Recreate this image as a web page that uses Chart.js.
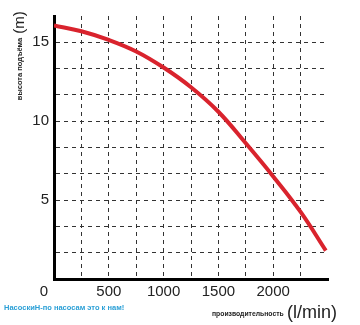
<!DOCTYPE html>
<html>
<head>
<meta charset="utf-8">
<script src="https://cdn.jsdelivr.net/npm/chart.js@4"></script>
<style>
  html, body { margin: 0; padding: 0; background: #fff; }
  #wrap { width: 360px; height: 325px; }
</style>
</head>
<body>
<div id="wrap"><canvas id="pumpChart" width="360" height="325"></canvas></div>
<script>
// flow (l/min) and head (m)
const flow = [0, 250, 500, 750, 1000, 1250, 1500, 1750, 2000, 2250, 2480]
const head = [16.07, 15.7, 15.15, 14.42, 13.4, 12.15, 10.6, 8.6, 6.5, 4.25, 1.8]

const xLabels = [500, 1000, 1500, 2000]
const yLabels = [5, 10, 15]
const xMax = 2500
const yMax = 50 / 3
const xStep = 250
const yStep = 5 / 3

const font = 'Liberation Sans, Arial, sans-serif'

const points = flow.map((f, i) => ({ x: f, y: head[i] }))

// axis titles, corner zero and footer text
const extraText = {
    id: 'extraText',
    afterDraw(chart) {
        const ctx = chart.ctx
        const area = chart.chartArea
        ctx.save()
        ctx.fillStyle = '#222'
        ctx.textBaseline = 'middle'

        ctx.font = '15px ' + font
        ctx.textAlign = 'right'
        ctx.fillText('0', area.left - 6, area.bottom + 13)

        ctx.save()
        ctx.translate(20, 0)
        ctx.rotate(-Math.PI / 2)
        ctx.textAlign = 'center'
        ctx.font = 'bold 7.5px ' + font
        ctx.fillText('высота подъёма', -69, 0)
        ctx.font = '15px ' + font
        ctx.fillText('(m)', -22.5, 0)
        ctx.restore()

        ctx.textAlign = 'left'
        ctx.font = 'bold 6.8px ' + font
        ctx.fillText('производительность', 212, 314)
        ctx.font = '18px ' + font
        ctx.fillText('(l/min)', 287, 313)

        ctx.fillStyle = '#2a9fd6'
        ctx.font = 'bold 7.5px ' + font
        ctx.fillText('НасоскиН-по насосам это к нам!', 4, 308)
        ctx.restore()
    }
}

function gridTicks(max, step) {
    const t = []
    for (let v = 0; v <= max + 1e-9; v += step) t.push({ value: v })
    return t
}

new Chart(document.getElementById('pumpChart'), {
    type: 'scatter',
    data: {
        datasets: [{
            data: points,
            showLine: true,
            borderColor: '#d9232d',
            borderWidth: 4,
            pointRadius: 0,
            tension: 0.4,
            fill: false
        }]
    },
    options: {
        responsive: false,
        animation: false,
        devicePixelRatio: 1,
        layout: { padding: { left: 0, top: 16, right: 32, bottom: 0 } },
        plugins: {
            legend: { display: false },
            tooltip: { enabled: false }
        },
        scales: {
            x: {
                type: 'linear',
                min: 0,
                max: xMax,
                afterBuildTicks: s => { s.ticks = gridTicks(xMax, xStep) },
                afterFit: s => { s.height = 46 },
                grid: {
                    drawTicks: false,
                    lineWidth: 1,
                    color: c => (c.tick && (c.tick.value === 0 || c.tick.value >= xMax)) ? 'rgba(0,0,0,0)' : '#333'
                },
                border: { display: true, color: '#000', width: 3, dash: [4, 4] },
                ticks: {
                    padding: 4,
                    color: '#222',
                    font: { family: font, size: 15 },
                    maxRotation: 0,
                    autoSkip: false,
                    callback: v => xLabels.includes(Math.round(v)) ? String(Math.round(v)) : ''
                }
            },
            y: {
                type: 'linear',
                min: 0,
                max: yMax,
                afterBuildTicks: s => { s.ticks = gridTicks(yMax, yStep) },
                afterFit: s => { s.width = 54 },
                grid: {
                    drawTicks: false,
                    lineWidth: 1,
                    color: c => (c.tick && (c.tick.value < 0.01 || c.tick.value > yMax - 0.01)) ? 'rgba(0,0,0,0)' : '#333'
                },
                border: { display: true, color: '#000', width: 3, dash: [4, 4] },
                ticks: {
                    padding: 5,
                    color: '#222',
                    font: { family: font, size: 15 },
                    autoSkip: false,
                    callback: v => {
                        const r = Math.round(v)
                        return (Math.abs(v - r) < 1e-6 && yLabels.includes(r)) ? String(r) : ''
                    }
                }
            }
        }
    },
    plugins: [extraText]
})
</script>
</body>
</html>
